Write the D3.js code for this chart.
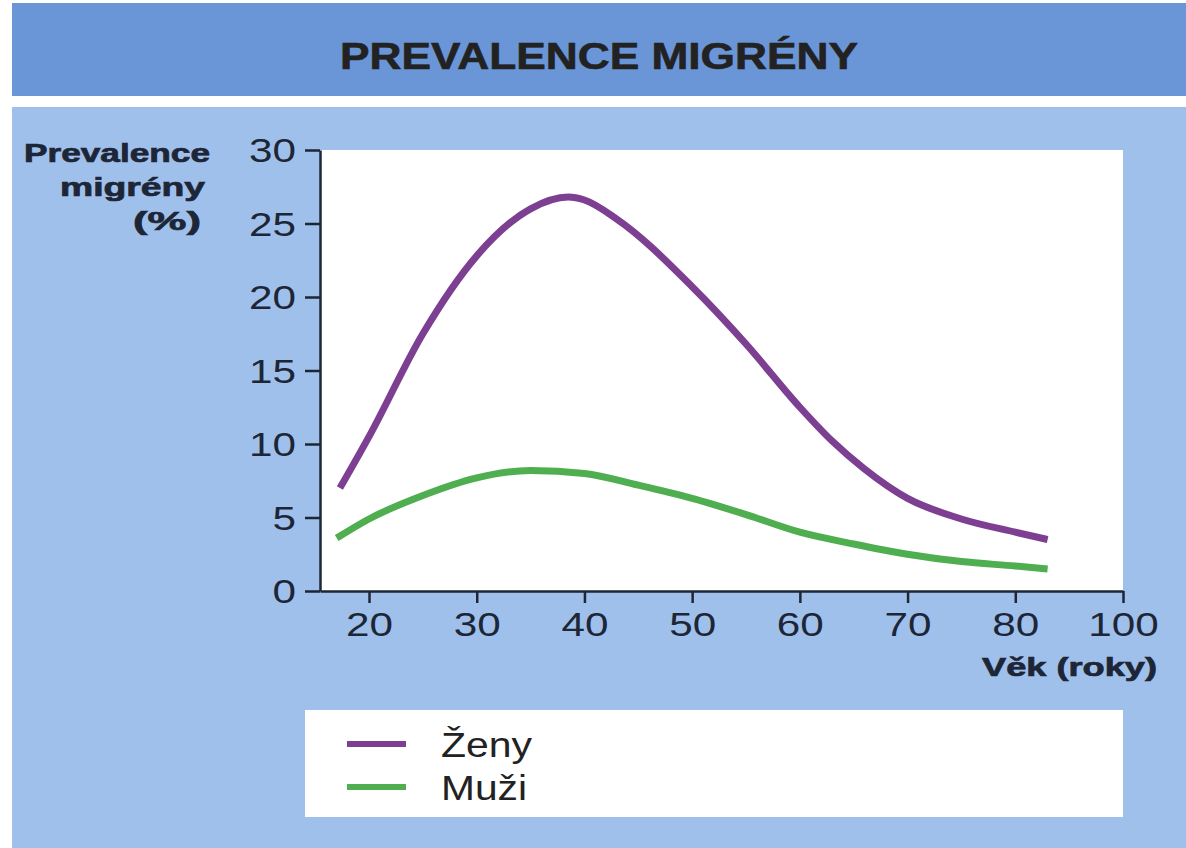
<!DOCTYPE html>
<html>
<head>
<meta charset="utf-8">
<script src="https://cdn.jsdelivr.net/npm/d3@7"></script>
<style>
  body { margin: 0; background: #fff; }
  svg { display: block; }
  text { font-family: "Liberation Sans", Arial, sans-serif; fill: #1d2636; }
</style>
</head>
<body>
<svg id="chart" width="1186" height="848"></svg>
<script>
// data
const title = "PREVALENCE MIGRÉNY";
const yLabel = ["Prevalence", "migrény", "(%)"];
const xLabel = "Věk (roky)";
const seriesNames = ["Ženy", "Muži"];
const seriesColors = ["#7d3f91", "#4fae4f"];

const zenyAge = [17.3, 20, 25, 30, 35, 38.5, 40, 43, 50, 55, 60, 63, 66, 70, 75, 80, 83];
const zenyVal = [7.0, 10.5, 17.5, 22.8, 26.0, 26.8, 26.6, 25.3, 20.7, 16.8, 12.5, 10.2, 8.3, 6.3, 4.9, 4.0, 3.5];
const muziAge = [17, 20, 25, 30, 35, 40, 45, 50, 55, 60, 65, 70, 75, 80, 83];
const muziVal = [3.6, 4.9, 6.5, 7.7, 8.2, 8.0, 7.2, 6.3, 5.2, 4.0, 3.2, 2.5, 2.0, 1.7, 1.5];

const yTicks = [0, 5, 10, 15, 20, 25, 30];
// the axis is evenly spaced, last tick carries the label "100"
const xTicks = [20, 30, 40, 50, 60, 70, 80, 90];
const xTickLabels = ["20", "30", "40", "50", "60", "70", "80", "100"];

const svg = d3.select("#chart");

// stretch text horizontally like the (wide) reference lettering
function stretch(sel, k) {
    sel.each(function() {
        const w = this.getComputedTextLength();
        d3.select(this).attr("textLength", w * k).attr("lengthAdjust", "spacingAndGlyphs");
    });
}

// background panels
svg.append("rect").attr("x", 12).attr("y", 3).attr("width", 1174).attr("height", 93).attr("fill", "#6a95d6");
svg.append("rect").attr("x", 12).attr("y", 107).attr("width", 1174).attr("height", 741).attr("fill", "#a0c0ec");

svg.append("text")
    .attr("x", 599).attr("y", 69)
    .attr("text-anchor", "middle")
    .style("font-size", "36px").style("font-weight", "bold")
    .style("fill", "#222").style("stroke", "#222").style("stroke-width", 0.6)
    .text(title)
    .attr("textLength", 518).attr("lengthAdjust", "spacingAndGlyphs");

const x = d3.scaleLinear().domain([20 - 49 / 10.77, 90]).range([320, 1123]);
const y = d3.scaleLinear().domain([0, 30]).range([591, 150]);

// white plot area
svg.append("rect")
    .attr("x", x.range()[0]).attr("y", y(30))
    .attr("width", x.range()[1] - x.range()[0]).attr("height", y(0) - y(30))
    .attr("fill", "#fff");

const yAxis = svg.append("g")
    .attr("transform", `translate(${x.range()[0]},0)`)
    .call(d3.axisLeft(y).tickValues(yTicks).tickSize(15).tickSizeOuter(0).tickPadding(9));

const xAxis = svg.append("g")
    .attr("transform", `translate(0,${y(0)})`)
    .call(d3.axisBottom(x).tickValues(xTicks).tickFormat((d, i) => xTickLabels[i])
        .tickSize(12).tickSizeOuter(0).tickPadding(9));

[yAxis, xAxis].forEach(g => {
    g.select(".domain").attr("stroke", "#1d2636").attr("stroke-width", 2.5);
    g.selectAll(".tick line").attr("stroke", "#1d2636").attr("stroke-width", 2.5);
    g.selectAll("text").attr("fill", "#1d2636").style("font-size", "33px").style("font-family", "Liberation Sans, Arial, sans-serif");
    stretch(g.selectAll("text"), 1.28);
});
yAxis.selectAll("text").attr("dy", "0.36em");
xAxis.selectAll("text").attr("dy", "0.72em");

// y label, three right aligned lines
const yLabelX = [210, 205, 201];
const yLabelY = [162, 196, 230];
const yLabelW = [186, 145, 68];
yLabel.forEach((t, i) => {
    svg.append("text")
        .attr("x", yLabelX[i]).attr("y", yLabelY[i])
        .attr("text-anchor", "end")
        .style("font-size", "25px").style("font-weight", "bold")
        .style("stroke", "#1d2636").style("stroke-width", 0.7)
        .text(t)
        .attr("textLength", yLabelW[i]).attr("lengthAdjust", "spacingAndGlyphs");
});

svg.append("text")
    .attr("x", 1157).attr("y", 676)
    .attr("text-anchor", "end")
    .style("font-size", "25px").style("font-weight", "bold")
    .style("stroke", "#1d2636").style("stroke-width", 0.7)
    .text(xLabel)
    .attr("textLength", 175).attr("lengthAdjust", "spacingAndGlyphs");

// curves
const line = d3.line()
    .x(d => x(d[0]))
    .y(d => y(d[1]))
    .curve(d3.curveMonotoneX);

const series = [
    d3.zip(zenyAge, zenyVal),
    d3.zip(muziAge, muziVal)
];

svg.append("g")
    .selectAll("path")
    .data(series)
    .enter().append("path")
    .attr("d", line)
    .attr("fill", "none")
    .attr("stroke", (d, i) => seriesColors[i])
    .attr("stroke-width", 7);

// legend
const legend = svg.append("g");
legend.append("rect")
    .attr("x", 305).attr("y", 710).attr("width", 818).attr("height", 107)
    .attr("fill", "#fff");

const legendY = [744, 787];
const legendW = [91, 86];
seriesNames.forEach((name, i) => {
    legend.append("line")
        .attr("x1", 347).attr("x2", 406)
        .attr("y1", legendY[i]).attr("y2", legendY[i])
        .attr("stroke", seriesColors[i])
        .attr("stroke-width", 6);
    legend.append("text")
        .attr("x", 441).attr("y", legendY[i] + 13)
        .style("font-size", "35px")
        .style("fill", "#222")
        .text(name)
        .attr("textLength", legendW[i]).attr("lengthAdjust", "spacingAndGlyphs");
});
</script>
</body>
</html>
